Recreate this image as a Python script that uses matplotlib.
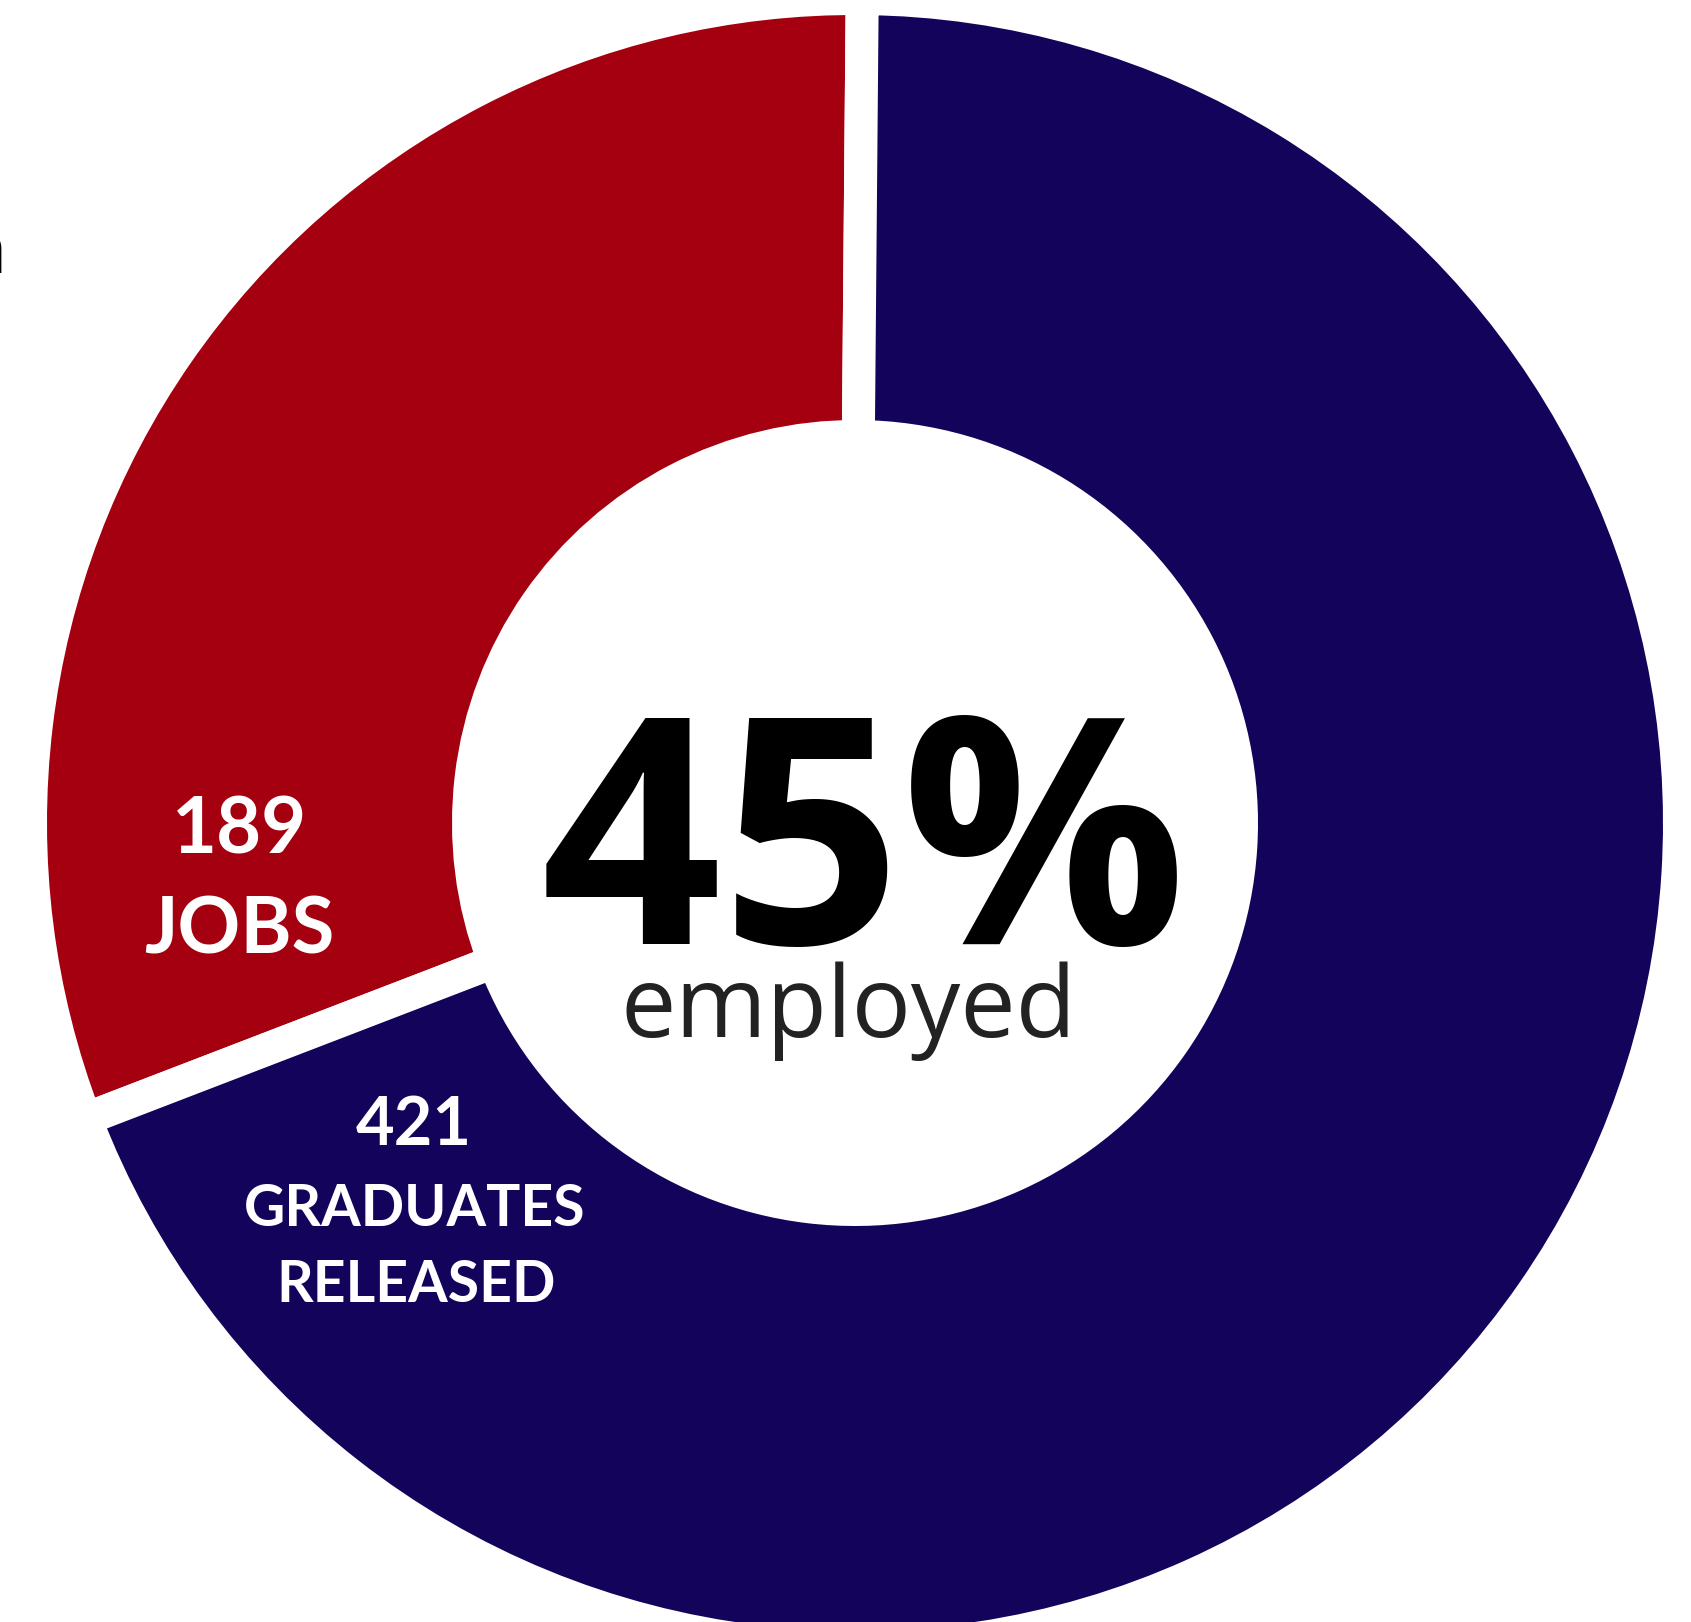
# plot.py
import matplotlib.pyplot as plt

# -----------------------------
# data
# -----------------------------
segment_names = ["JOBS", "GRADUATES RELEASED"]
segment_values = [189, 421]
segment_colors = ["#A5000F", "#13035B"]
centre_value = "45%"
centre_caption = "employed"

W, H = 1691, 1622
fig = plt.figure(figsize=(W / 100, H / 100), dpi=100)
ax = fig.add_axes([0, 0, 1, 1])

# donut, white gap between slices done by thick white edges
gap_px = 33
lw_pt = gap_px * 72 / 100
outer_r = 808 + gap_px / 2
inner_r = 403 - gap_px / 2
cx, cy = 855, H - 823

ax.pie(segment_values, colors=segment_colors, startangle=89.5, counterclock=True,
       center=(cx, cy), radius=outer_r,
       wedgeprops=dict(width=outer_r - inner_r, edgecolor="white", linewidth=lw_pt))

ax.set_xlim(0, W)
ax.set_ylim(0, H)
ax.set_aspect("equal")
ax.axis("off")

# centre text
ax.text(864, H - 944, centre_value, ha="center", va="baseline",
        fontsize=228, fontweight="bold", family="Open Sans", color="black")
ax.text(848, H - 1037, centre_caption, ha="center", va="baseline",
        fontsize=71, family="Open Sans", color="#222222")

# slice labels
lab = dict(ha="center", va="baseline", color="white", fontweight="bold", family="Lato")
ax.text(240, H - 854, str(segment_values[0]), fontsize=56, **lab)
ax.text(239, H - 954, segment_names[0], fontsize=56, **lab)
ax.text(414, H - 1145, str(segment_values[1]), fontsize=48, **lab)
ax.text(415, H - 1226, "GRADUATES", fontsize=41, **lab)
ax.text(416, H - 1302, "RELEASED", fontsize=41, **lab)

# cut-off heading letter at the left border
ax.text(6, H - 273, "n", ha="right", va="baseline", fontsize=50,
        fontweight="bold", family="Open Sans", color="black")

fig.savefig("out.png", dpi=100)
